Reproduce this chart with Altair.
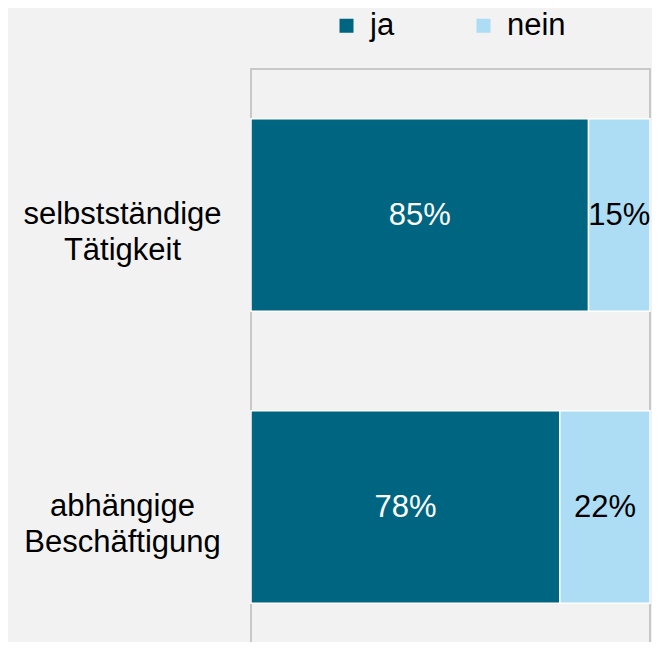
import altair as alt
import pandas as pd

categories = ["selbstständige|Tätigkeit", "abhängige|Beschäftigung"]
answers = ["ja", "nein"]
ja_values = [84.6, 77.4]
nein_values = [15.4, 22.6]
ja_labels = ["85%", "78%"]
nein_labels = ["15%", "22%"]

rows = []
for c, jv, nv, jl, nl in zip(categories, ja_values, nein_values, ja_labels, nein_labels):
    rows.append({"cat": c, "answer": "ja", "value": jv, "label": jl, "ord": 0})
    rows.append({"cat": c, "answer": "nein", "value": nv, "label": nl, "ord": 1})
df = pd.DataFrame(rows)

W, H = 399, 573
FS = 31
colors = ["#006581", "#addcf5"]

y_enc = alt.Y(
    "cat:N",
    sort=categories,
    scale=alt.Scale(range=[0, 584], paddingInner=0.34, paddingOuter=0.17),
    axis=alt.Axis(
        title=None, ticks=False, domain=False, labelAlign="center",
        labelBaseline="middle",
        labelPadding=129, labelFontSize=FS, labelColor="#000000",
        labelLineHeight=36, labelExpr="split(datum.label, '|')",
        labelFont="Liberation Sans", labelLimit=300,
    ),
)

frame = alt.Chart(pd.DataFrame({"a": [0]})).mark_rect(
    fill=None, stroke="#c8c8c8", strokeWidth=2
).encode(
    x=alt.value(0), x2=alt.value(W), y=alt.value(0), y2=alt.value(H + 100)
)

base = alt.Chart(df).transform_stack(
    stack="value", groupby=["cat"], as_=["x0", "x1"],
    sort=[alt.SortField("ord", order="ascending")],
).transform_calculate(mid="(datum.x0 + datum.x1) / 2")

bars = base.mark_bar(stroke="white", strokeWidth=1.5).encode(
    x=alt.X("x0:Q", scale=alt.Scale(domain=[0, 100], nice=False, zero=True), axis=None),
    x2="x1:Q",
    y=y_enc,
    color=alt.Color(
        "answer:N",
        scale=alt.Scale(domain=answers, range=colors),
        legend=alt.Legend(
            title=None, orient="none", direction="horizontal",
            legendX=80, legendY=-59, symbolType="square", symbolSize=196,
            symbolStrokeWidth=0, labelFontSize=FS, labelColor="#000000",
            labelOffset=8, columnPadding=73, padding=0,
            labelFont="Liberation Sans",
        ),
    ),
)

texts = base.mark_text(fontSize=FS, font="Liberation Sans", dy=1).encode(
    x=alt.X("mid:Q"),
    y=alt.Y("cat:N", sort=categories),
    text="label:N",
    color=alt.Color("answer:N", scale=alt.Scale(domain=answers, range=["#ffffff", "#000000"]), legend=None),
)

chart = alt.layer(frame, bars, texts).resolve_scale(color="independent").properties(
    width=W, height=H,
    autosize=alt.AutoSizeParams(type="none"),
    padding={"left": 243, "top": 61, "right": 2, "bottom": 0},
    background="#f2f2f2",
).configure_view(stroke=None)

chart.save("out.html", embed_options={"renderer": "svg", "actions": False})
